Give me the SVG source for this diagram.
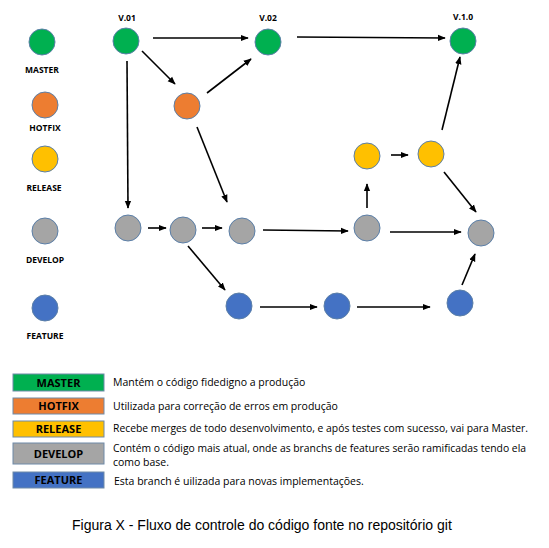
<svg xmlns="http://www.w3.org/2000/svg" width="549" height="548" viewBox="0 0 549 548">
<defs>
<marker id="ah" viewBox="0 0 10 10" refX="9" refY="5" markerWidth="5" markerHeight="5" orient="auto" markerUnits="strokeWidth">
<path d="M0,1 L10,5 L0,9 z" fill="#000"/>
</marker>
<style>
.n{stroke:#5b7fa8;stroke-width:1}
.m{fill:#00B050}.h{fill:#ED7D31}.r{fill:#FFC000}.d{fill:#A5A5A5}.f{fill:#4472C4}
.lbl{font-family:"Open Sans","Liberation Sans",sans-serif;font-weight:bold;font-size:8.5px;fill:#000;text-anchor:middle}
.box{stroke:#6f8aa8;stroke-width:1}
.bt{font-family:"Open Sans","Liberation Sans",sans-serif;font-weight:bold;font-size:11px;fill:#000;text-anchor:middle}
.desc{font-family:"Open Sans","Liberation Sans",sans-serif;font-size:10.5px;fill:#000}
.cap{font-family:"Liberation Sans",Arial,sans-serif;font-size:14px;fill:#000}
#connectors line{stroke:#000;stroke-width:1.6;marker-end:url(#ah)}
</style>
</defs>
<rect width="549" height="548" fill="#fff"/>
<g id="legend-top">
<circle class="n m" cx="42" cy="42" r="13"/><text class="lbl" x="42" y="73">MASTER</text>
<circle class="n h" cx="45" cy="105" r="13"/><text class="lbl" x="45" y="131">HOTFIX</text>
<circle class="n r" cx="45" cy="159" r="13"/><text class="lbl" x="44" y="191">RELEASE</text>
<circle class="n d" cx="45" cy="231" r="13"/><text class="lbl" x="45" y="263">DEVELOP</text>
<circle class="n f" cx="45" cy="308" r="13"/><text class="lbl" x="45" y="339">FEATURE</text>
</g>
<g id="connectors">
<line x1="153" y1="38" x2="248" y2="38"/>
<line x1="297" y1="37" x2="445" y2="38"/>
<line x1="142" y1="51" x2="175" y2="84"/>
<line x1="207" y1="93" x2="251" y2="59"/>
<line x1="127" y1="61" x2="128" y2="208"/>
<line x1="197" y1="127" x2="227" y2="202"/>
<line x1="148" y1="228" x2="166" y2="228"/>
<line x1="202" y1="228" x2="222" y2="228"/>
<line x1="263" y1="230" x2="348" y2="231"/>
<line x1="188" y1="246" x2="225" y2="290"/>
<line x1="260" y1="307" x2="317" y2="307"/>
<line x1="357" y1="307" x2="430" y2="307"/>
<line x1="462" y1="285" x2="475" y2="254"/>
<line x1="390" y1="232" x2="461" y2="232"/>
<line x1="367" y1="208" x2="367" y2="184"/>
<line x1="391" y1="155" x2="408" y2="155"/>
<line x1="444" y1="172" x2="476" y2="212"/>
<line x1="442" y1="130" x2="460" y2="57"/>
</g>
<g id="v01"><circle class="n m" cx="126" cy="41" r="13"/><text class="lbl" x="127" y="21">V.01</text></g>
<g id="v02"><circle class="n m" cx="268" cy="42" r="13"/><text class="lbl" x="268" y="21">V.02</text></g>
<g id="v10"><circle class="n m" cx="463" cy="41" r="13"/><text class="lbl" x="463" y="20">V.1.0</text></g>
<g id="hotfix1"><circle class="n h" cx="187" cy="106" r="13"/></g>
<g id="dev1"><circle class="n d" cx="128" cy="228" r="13"/></g>
<g id="dev2"><circle class="n d" cx="183" cy="230" r="13"/></g>
<g id="dev3"><circle class="n d" cx="242" cy="231" r="13"/></g>
<g id="dev4"><circle class="n d" cx="367" cy="228" r="13"/></g>
<g id="dev5"><circle class="n d" cx="481" cy="233" r="13"/></g>
<g id="rel1"><circle class="n r" cx="367" cy="156" r="13"/></g>
<g id="rel2"><circle class="n r" cx="431" cy="154" r="13"/></g>
<g id="feat1"><circle class="n f" cx="239" cy="306" r="13"/></g>
<g id="feat2"><circle class="n f" cx="337" cy="306" r="13"/></g>
<g id="feat3"><circle class="n f" cx="460" cy="303" r="13"/></g>
<g id="legend-bottom">
<rect class="box m" x="13" y="374" width="91" height="17"/><text class="bt" x="58.5" y="386.5">MASTER</text>
<text class="desc" x="113" y="386">Mantém o código fidedigno a produção</text>
<rect class="box h" x="13" y="398" width="91" height="16"/><text class="bt" x="58.5" y="410">HOTFIX</text>
<text class="desc" x="113" y="410">Utilizada para correção de erros em produção</text>
<rect class="box r" x="13" y="421" width="91" height="16"/><text class="bt" x="58.5" y="433">RELEASE</text>
<text class="desc" x="113" y="432" textLength="415" lengthAdjust="spacingAndGlyphs">Recebe merges de todo desenvolvimento, e após testes com sucesso, vai para Master.</text>
<rect class="box d" x="13" y="443" width="91" height="21"/><text class="bt" x="58.5" y="457.5">DEVELOP</text>
<text class="desc" x="113" y="452" textLength="413" lengthAdjust="spacingAndGlyphs">Contém o código mais atual, onde as branchs de features serão ramificadas tendo ela</text>
<text class="desc" x="113" y="466">como base.</text>
<rect class="box f" x="13" y="472" width="91" height="16"/><text class="bt" x="58.5" y="484">FEATURE</text>
<text class="desc" x="114" y="485">Esta branch é uilizada para novas implementações.</text>
</g>
<text class="cap" x="72" y="530">Figura X - Fluxo de controle do código fonte no repositório git</text>
</svg>
